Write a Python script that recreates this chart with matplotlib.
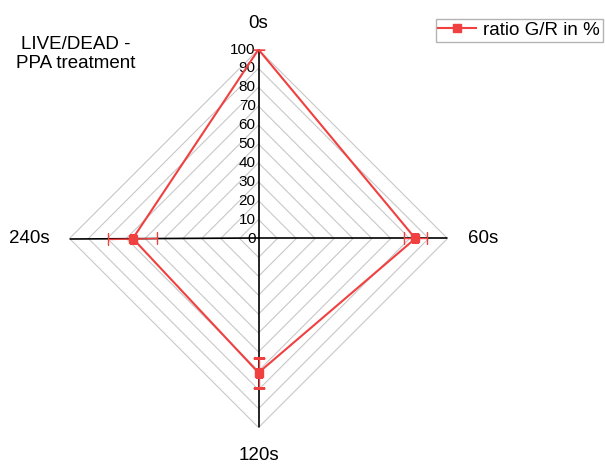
import numpy as np
import matplotlib.pyplot as plt

plt.rcParams['font.family'] = ['Liberation Sans', 'DejaVu Sans']

# data
categories = ['0s', '60s', '120s', '240s']
ratio = [100, 83, 71, 66.5]
ratio_err = [0, 6, 8, 13]
ticks = [0, 10, 20, 30, 40, 50, 60, 70, 80, 90, 100]

red = '#F04040'
theta = np.deg2rad([0, 90, 180, 270])

fig = plt.figure(figsize=(6.05, 4.65), dpi=100)
ax = fig.add_axes([69.5 / 605, 37.5 / 465, 378 / 605, 378 / 465], projection='polar')
ax.set_theta_zero_location('N')
ax.set_theta_direction(-1)
ax.set_ylim(0, 100)
ax.grid(False)
ax.spines['polar'].set_visible(False)
ax.set_xticks([])
ax.set_yticks([])

# diamond grid
th_closed = np.append(theta, theta[0])
for r in ticks[1:]:
    ax.plot(th_closed, [r] * 5, color='#C8C8C8', lw=0.8, zorder=1)

# axis lines
for t in theta:
    ax.plot([t, t], [0, 100], color='black', lw=1.2, zorder=2)

# tick labels on the vertical axis
for r in ticks:
    ax.annotate(str(r), xy=(0, r), xytext=(-2, 0), textcoords='offset points',
                ha='right', va='center', fontsize=11, zorder=3)

# category labels
label_r = [113.5, 119, 115, 121]
for t, name, lr in zip(theta, categories, label_r):
    ax.text(t, lr, name, ha='center', va='center', fontsize=13.5, clip_on=False)

# data series
vals_closed = np.append(ratio, ratio[0])
ax.plot(th_closed, vals_closed, color=red, lw=1.5, zorder=4)
ax.errorbar(theta, ratio, yerr=ratio_err, fmt='none', ecolor=red, elinewidth=1,
            capsize=4, zorder=4)
ax.plot(theta[1:], ratio[1:], 's', color=red, ms=6, zorder=5)

# legend handle
ax.plot([], [], '-s', color=red, lw=1.5, ms=6, label='ratio G/R in %')
fig.legend(loc='upper right', bbox_to_anchor=(603 / 605, 1 - 19 / 465), fontsize=13.5,
           frameon=True, fancybox=False, edgecolor='#A0A0A0', handlelength=2.0,
           borderpad=0.15, handletextpad=0.4, borderaxespad=0)

fig.text(76 / 605, 1 - 54 / 465, 'LIVE/DEAD -\nPPA treatment', ha='center', va='center',
         fontsize=13.5, linespacing=1.1)

fig.savefig('out.png', dpi=100)
